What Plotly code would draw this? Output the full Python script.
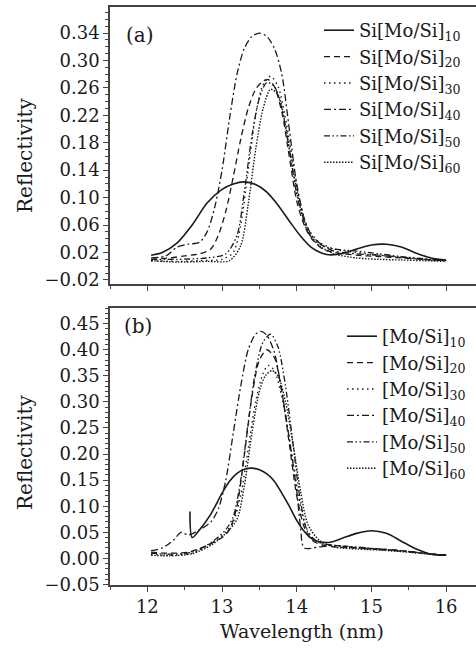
import plotly.graph_objects as go

# ---------------- data: panel (a) Si[Mo/Si]N ----------------
a10_x = [12.05, 12.2, 12.4, 12.6, 12.8, 13.0, 13.15, 13.3, 13.45, 13.6, 13.75, 13.9, 14.05, 14.2, 14.4, 14.6, 14.8, 15.0, 15.2, 15.4, 15.6, 15.8, 16.0]
a10_y = [0.016, 0.020, 0.034, 0.060, 0.092, 0.112, 0.120, 0.123, 0.119, 0.108, 0.089, 0.066, 0.044, 0.027, 0.017, 0.018, 0.025, 0.031, 0.032, 0.028, 0.019, 0.012, 0.009]

a20_x = [12.05, 12.3, 12.5, 12.7, 12.85, 12.95, 13.05, 13.15, 13.25, 13.35, 13.45, 13.55, 13.62, 13.7, 13.8, 13.9, 14.0, 14.1, 14.2, 14.35, 14.5, 14.8, 15.1, 15.4, 15.7, 16.0]
a20_y = [0.010, 0.012, 0.015, 0.018, 0.025, 0.045, 0.080, 0.130, 0.185, 0.230, 0.258, 0.270, 0.272, 0.262, 0.225, 0.160, 0.095, 0.060, 0.040, 0.025, 0.020, 0.016, 0.014, 0.012, 0.010, 0.008]

a30_x = [12.05, 12.4, 12.7, 13.0, 13.15, 13.25, 13.35, 13.45, 13.55, 13.65, 13.75, 13.85, 13.95, 14.05, 14.15, 14.3, 14.5, 14.8, 15.1, 15.4, 15.7, 16.0]
a30_y = [0.008, 0.007, 0.008, 0.010, 0.020, 0.060, 0.140, 0.220, 0.265, 0.277, 0.262, 0.215, 0.150, 0.090, 0.055, 0.035, 0.025, 0.020, 0.016, 0.013, 0.010, 0.008]

a40_x = [12.05, 12.25, 12.4, 12.55, 12.7, 12.8, 12.9, 13.0, 13.1, 13.2, 13.3, 13.4, 13.5, 13.6, 13.7, 13.8, 13.9, 14.0, 14.1, 14.2, 14.35, 14.5, 14.8, 15.1, 15.4, 15.7, 16.0]
a40_y = [0.012, 0.015, 0.028, 0.032, 0.035, 0.050, 0.085, 0.140, 0.215, 0.280, 0.318, 0.335, 0.340, 0.335, 0.318, 0.280, 0.200, 0.120, 0.070, 0.045, 0.030, 0.022, 0.018, 0.016, 0.013, 0.010, 0.008]

a50_x = [12.05, 12.4, 12.8, 13.05, 13.2, 13.3, 13.4, 13.5, 13.6, 13.7, 13.8, 13.9, 14.0, 14.1, 14.2, 14.35, 14.5, 14.8, 15.1, 15.4, 15.7, 16.0]
a50_y = [0.010, 0.010, 0.012, 0.018, 0.045, 0.110, 0.190, 0.245, 0.268, 0.262, 0.230, 0.170, 0.105, 0.065, 0.042, 0.030, 0.025, 0.022, 0.018, 0.014, 0.011, 0.008]

a60_x = [12.05, 12.4, 12.8, 13.1, 13.25, 13.35, 13.45, 13.55, 13.65, 13.75, 13.85, 13.95, 14.05, 14.15, 14.3, 14.5, 14.8, 15.1, 15.4, 15.7, 16.0]
a60_y = [0.008, 0.006, 0.007, 0.008, 0.030, 0.090, 0.170, 0.230, 0.258, 0.250, 0.205, 0.140, 0.085, 0.050, 0.030, 0.018, 0.012, 0.010, 0.009, 0.008, 0.007]

# ---------------- data: panel (b) [Mo/Si]N ----------------
b10_x = [12.57, 12.6, 12.7, 12.85, 13.0, 13.1, 13.2, 13.3, 13.4, 13.5, 13.6, 13.7, 13.8, 13.9, 14.0, 14.1, 14.2, 14.3, 14.45, 14.6, 14.8, 15.0, 15.2, 15.4, 15.6, 15.8, 16.0]
b10_y = [0.090, 0.040, 0.055, 0.085, 0.125, 0.148, 0.163, 0.171, 0.173, 0.170, 0.162, 0.148, 0.125, 0.100, 0.073, 0.052, 0.038, 0.032, 0.031, 0.038, 0.048, 0.053, 0.048, 0.033, 0.018, 0.008, 0.006]

b20_x = [12.05, 12.3, 12.55, 12.8, 13.0, 13.1, 13.2, 13.3, 13.4, 13.5, 13.6, 13.7, 13.8, 13.9, 14.0, 14.1, 14.2, 14.35, 14.5, 14.8, 15.1, 15.4, 15.7, 16.0]
b20_y = [0.012, 0.010, 0.012, 0.025, 0.040, 0.055, 0.100, 0.200, 0.310, 0.380, 0.400, 0.385, 0.320, 0.220, 0.120, 0.060, 0.035, 0.025, 0.022, 0.020, 0.018, 0.015, 0.010, 0.006]

b30_x = [12.05, 12.3, 12.6, 12.85, 13.05, 13.15, 13.25, 13.35, 13.45, 13.55, 13.62, 13.7, 13.8, 13.9, 14.0, 14.1, 14.2, 14.35, 14.5, 14.8, 15.1, 15.4, 15.7, 16.0]
b30_y = [0.008, 0.006, 0.010, 0.028, 0.050, 0.070, 0.120, 0.210, 0.300, 0.355, 0.370, 0.360, 0.310, 0.230, 0.140, 0.070, 0.040, 0.028, 0.024, 0.021, 0.018, 0.014, 0.010, 0.006]

b40_x = [12.05, 12.2, 12.35, 12.45, 12.55, 12.7, 12.85, 12.95, 13.05, 13.15, 13.25, 13.35, 13.45, 13.52, 13.6, 13.7, 13.8, 13.9, 14.0, 14.05, 14.1, 14.3, 14.5, 14.8, 15.1, 15.4, 15.7, 16.0]
b40_y = [0.015, 0.020, 0.035, 0.050, 0.045, 0.055, 0.070, 0.095, 0.150, 0.240, 0.330, 0.400, 0.430, 0.435, 0.428, 0.395, 0.320, 0.230, 0.130, 0.060, 0.020, 0.022, 0.025, 0.020, 0.017, 0.014, 0.010, 0.006]

b50_x = [12.05, 12.3, 12.6, 12.85, 13.05, 13.15, 13.25, 13.35, 13.45, 13.55, 13.65, 13.75, 13.85, 13.95, 14.05, 14.15, 14.3, 14.5, 14.8, 15.1, 15.4, 15.7, 16.0]
b50_y = [0.010, 0.008, 0.012, 0.030, 0.055, 0.080, 0.150, 0.260, 0.360, 0.415, 0.430, 0.405, 0.330, 0.220, 0.110, 0.050, 0.030, 0.025, 0.022, 0.018, 0.015, 0.010, 0.006]

b60_x = [12.05, 12.3, 12.6, 12.85, 13.05, 13.2, 13.3, 13.4, 13.5, 13.58, 13.67, 13.75, 13.85, 13.95, 14.05, 14.15, 14.3, 14.5, 14.8, 15.1, 15.4, 15.7, 16.0]
b60_y = [0.006, 0.005, 0.009, 0.025, 0.048, 0.075, 0.140, 0.240, 0.320, 0.350, 0.360, 0.350, 0.300, 0.220, 0.130, 0.065, 0.035, 0.022, 0.018, 0.016, 0.013, 0.009, 0.006]

labels_a = ["Si[Mo/Si]<sub>10</sub>", "Si[Mo/Si]<sub>20</sub>", "Si[Mo/Si]<sub>30</sub>",
            "Si[Mo/Si]<sub>40</sub>", "Si[Mo/Si]<sub>50</sub>", "Si[Mo/Si]<sub>60</sub>"]
labels_b = ["[Mo/Si]<sub>10</sub>", "[Mo/Si]<sub>20</sub>", "[Mo/Si]<sub>30</sub>",
            "[Mo/Si]<sub>40</sub>", "[Mo/Si]<sub>50</sub>", "[Mo/Si]<sub>60</sub>"]

dashes = ["solid", "6px,4px", "1.5px,3.5px", "7px,3px,2px,3px",
          "6px,2.5px,1.5px,2.5px,1.5px,2.5px", "1.5px,1.5px"]
widths = [1.6, 1.3, 1.4, 1.3, 1.3, 1.4]

FONT = "DejaVu Serif"
INK = "#1a1a1a"
AX = "#444444"

fig = go.Figure()

series_a = [(a10_x, a10_y), (a20_x, a20_y), (a30_x, a30_y), (a40_x, a40_y), (a50_x, a50_y), (a60_x, a60_y)]
series_b = [(b10_x, b10_y), (b20_x, b20_y), (b30_x, b30_y), (b40_x, b40_y), (b50_x, b50_y), (b60_x, b60_y)]

for i, (xs, ys) in enumerate(series_a):
    fig.add_trace(go.Scatter(x=xs, y=ys, mode="lines", name=labels_a[i],
                             line=dict(color=INK, width=widths[i], dash=dashes[i], shape="spline", smoothing=0.8),
                             xaxis="x", yaxis="y", legend="legend"))
for i, (xs, ys) in enumerate(series_b):
    fig.add_trace(go.Scatter(x=xs, y=ys, mode="lines", name=labels_b[i],
                             line=dict(color=INK, width=widths[i], dash=dashes[i], shape="spline", smoothing=0.8),
                             xaxis="x2", yaxis="y2", legend="legend2"))

W, H = 476, 651
L, R, T, B = 110, 0, 7, 66
PW, PH = W - L - R, H - T - B

def px(xp):
    return (xp - L) / PW

def py(yp):
    return (H - B - yp) / PH

top_dom = [py(284), 1.0]
bot_dom = [0.0, py(308)]

xcommon = dict(range=[11.5, 16.4], tick0=12, dtick=1, ticks="outside", ticklen=5, tickwidth=1.2,
               tickcolor=AX, showline=True, linecolor=AX, linewidth=1.5, mirror=True,
               showgrid=False, zeroline=False,
               minor=dict(dtick=0.5, ticks="outside", ticklen=3, tickcolor=AX, tickwidth=1, showgrid=False),
               tickfont=dict(family=FONT, size=18, color=INK))
ycommon = dict(ticks="outside", ticklen=5, tickwidth=1.2, tickcolor=AX, showline=True, linecolor=AX,
               linewidth=1.5, mirror=False, showgrid=False, zeroline=False,
               tickfont=dict(family=FONT, size=18, color=INK))

fig.update_layout(
    width=W, height=H,
    margin=dict(l=L, r=R, t=T, b=B),
    paper_bgcolor="white", plot_bgcolor="white",
    font=dict(family=FONT, color=INK),
    xaxis=dict(**xcommon, domain=[0, 1], anchor="y", showticklabels=False),
    yaxis=dict(**ycommon, domain=top_dom, anchor="x", range=[-0.026, 0.378], tick0=-0.02, dtick=0.04,
               tickformat=".2f",
               minor=dict(dtick=0.01, tick0=-0.02, ticks="outside", ticklen=3, tickcolor=AX, tickwidth=1)),
    xaxis2=dict(**xcommon, domain=[0, 1], anchor="y2", showticklabels=True),
    yaxis2=dict(**ycommon, domain=bot_dom, anchor="x2", range=[-0.051, 0.48], tick0=-0.05, dtick=0.05,
                tickformat=".2f",
                minor=dict(dtick=0.01, tick0=-0.05, ticks="outside", ticklen=3, tickcolor=AX, tickwidth=1)),
    legend=dict(x=px(319), y=py(12), xanchor="left", yanchor="top", bgcolor="rgba(0,0,0,0)",
                font=dict(family=FONT, size=18, color=INK), itemwidth=30, tracegroupgap=0),
    legend2=dict(x=px(342), y=py(318), xanchor="left", yanchor="top", bgcolor="rgba(0,0,0,0)",
                 font=dict(family=FONT, size=18, color=INK), itemwidth=30, tracegroupgap=0),
    showlegend=True,
)

ann = [
    dict(text="(a)", x=px(140), y=py(35), xref="paper", yref="paper", showarrow=False,
         font=dict(family=FONT, size=20, color=INK), xanchor="center", yanchor="middle"),
    dict(text="(b)", x=px(138), y=py(326), xref="paper", yref="paper", showarrow=False,
         font=dict(family=FONT, size=20, color=INK), xanchor="center", yanchor="middle"),
    dict(text="Reflectivity", x=px(25), y=py(156), xref="paper", yref="paper", showarrow=False,
         textangle=-90, font=dict(family=FONT, size=20, color=INK), xanchor="center", yanchor="middle"),
    dict(text="Reflectivity", x=px(25), y=py(453), xref="paper", yref="paper", showarrow=False,
         textangle=-90, font=dict(family=FONT, size=20, color=INK), xanchor="center", yanchor="middle"),
    dict(text="Wavelength (nm)", x=px(302), y=py(631), xref="paper", yref="paper", showarrow=False,
         font=dict(family=FONT, size=19, color=INK), xanchor="center", yanchor="middle"),
]
fig.update_layout(annotations=ann)

fig.write_html("out.html")
